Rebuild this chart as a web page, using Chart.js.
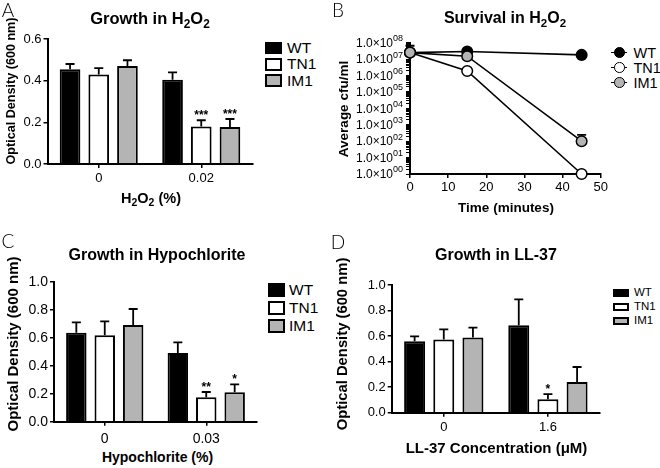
<!DOCTYPE html>
<html>
<head>
<meta charset="utf-8">
<script src="https://cdn.jsdelivr.net/npm/chart.js@4.4.1/dist/chart.umd.min.js"></script>
<style>
  body { margin: 0; background: #fff; }
  #fig { position: relative; width: 660px; height: 468px; overflow: hidden; color: #000;
         font-family: 'Liberation Sans', Arial, Helvetica, sans-serif; }
  #fig canvas { position: absolute; }
  .abs { position: absolute; white-space: nowrap; line-height: 1; }
  .abs sub { font-size: 72%; vertical-align: -0.32em; line-height: 0; }
  .sw { position: absolute; box-sizing: border-box; border: 2px solid #000; }
</style>
</head>
<body>
<div id="fig">
  <canvas id="chartA" width="260" height="190" style="left:0;top:0"></canvas>
  <canvas id="chartB" width="280" height="195" style="left:330px;top:0"></canvas>
  <canvas id="chartC" width="262" height="215" style="left:0;top:234px"></canvas>
  <canvas id="chartD" width="278" height="210" style="left:330px;top:234px"></canvas>
</div>
<script>
// --- data ---
const strains = ['WT', 'TN1', 'IM1'];

// A: growth in H2O2
const h2o2Doses = ['0', '0.02'];
const h2o2WT = [0.455, 0.405];
const h2o2WTErr = [0.025, 0.035];
const h2o2TN1 = [0.43, 0.18];
const h2o2TN1Err = [0.03, 0.03];
const h2o2IM1 = [0.47, 0.178];
const h2o2IM1Err = [0.028, 0.038];
const h2o2TN1Stars = ['', '***'];
const h2o2IM1Stars = ['', '***'];
const h2o2YTicks = [0, 0.2, 0.4, 0.6];

// B: survival in H2O2 (cfu/ml)
const survivalTimes = [0, 15, 45];
const survivalWT = [2.5e7, 2.9e7, 1.8e7];
const survivalTN1 = [2.5e7, 1.9e6, 1];
const survivalIM1 = [2.5e7, 1.5e7, 100];
const survivalWTTop = [6.5e7, null, null];
const survivalIM1Top = [null, null, 240];
const survivalXTicks = [0, 10, 20, 30, 40, 50];
const survivalDecades = [0, 1, 2, 3, 4, 5, 6, 7, 8];

// C: growth in hypochlorite
const hypoDoses = ['0', '0.03'];
const hypoWT = [0.635, 0.49];
const hypoWTErr = [0.075, 0.077];
const hypoTN1 = [0.617, 0.175];
const hypoTN1Err = [0.1, 0.037];
const hypoIM1 = [0.69, 0.21];
const hypoIM1Err = [0.115, 0.057];
const hypoTN1Stars = ['', '**'];
const hypoIM1Stars = ['', '*'];
const hypoYTicks = [0, 0.2, 0.4, 0.6, 0.8, 1.0];

// D: growth in LL-37
const ll37Doses = ['0', '1.6'];
const ll37WT = [0.56, 0.685];
const ll37WTErr = [0.038, 0.203];
const ll37TN1 = [0.573, 0.105];
const ll37TN1Err = [0.08, 0.04];
const ll37IM1 = [0.588, 0.24];
const ll37IM1Err = [0.078, 0.118];
const ll37TN1Stars = ['', '*'];
const ll37YTicks = [0, 0.2, 0.4, 0.6, 0.8, 1.0];

const FAM = "'Liberation Sans', Arial, Helvetica, sans-serif";
const GREY = '#b4b4b4';
const noStars = ['', ''];

// error bars (upward only, with cap) and significance stars
const errorBars = {
  id: 'errorBars',
  afterDatasetsDraw(chart) {
    const ctx = chart.ctx;
    const y = chart.scales.y;
    chart.data.datasets.forEach((ds, i) => {
      if (!ds.errTop) return;
      const meta = chart.getDatasetMeta(i);
      meta.data.forEach((el, j) => {
        const top = ds.errTop[j];
        if (top == null) return;
        const yTop = y.getPixelForValue(top);
        const yFrom = chart.config.type === 'line' ? el.y - 5 : el.y;
        ctx.save();
        ctx.strokeStyle = '#000';
        ctx.lineWidth = 1.8;
        ctx.beginPath();
        ctx.moveTo(el.x, yFrom);
        ctx.lineTo(el.x, yTop);
        ctx.moveTo(el.x - 4.5, yTop);
        ctx.lineTo(el.x + 4.5, yTop);
        ctx.stroke();
        const star = ds.stars ? ds.stars[j] : '';
        if (star) {
          ctx.fillStyle = '#000';
          ctx.font = 'bold 12px ' + FAM;
          ctx.textAlign = 'center';
          ctx.textBaseline = 'alphabetic';
          ctx.fillText(star, el.x, yTop - 1);
        }
        ctx.restore();
      });
    });
  }
};

function barChart(id, labels, series, yTicks, box) {
  new Chart(document.getElementById(id), {
    type: 'bar',
    data: {
      labels: labels,
      datasets: series.map(s => ({
        label: s.name,
        data: s.values,
        errTop: s.values.map((v, i) => v + s.errors[i]),
        stars: s.stars,
        backgroundColor: s.fill,
        borderColor: '#000',
        borderWidth: 2,
        inflateAmount: 0,
        categoryPercentage: 0.84,
        barPercentage: 0.72
      }))
    },
    options: {
      responsive: false,
      animation: false,
      layout: { padding: { top: box.top, right: box.right, left: 0, bottom: 0 } },
      plugins: { legend: { display: false }, tooltip: { enabled: false } },
      scales: {
        x: {
          ticks: { color: '#000', font: { family: FAM, size: box.font }, padding: box.xpad },
          grid: { offset: false, drawOnChartArea: false, tickLength: 4, color: '#000', lineWidth: 1.5 },
          border: { color: '#000', width: 2, z: 1 },
          afterFit: s => { s.height = box.xh; }
        },
        y: {
          min: yTicks[0],
          max: yTicks[yTicks.length - 1],
          afterBuildTicks: s => { s.ticks = yTicks.map(v => ({ value: v })); },
          ticks: { color: '#000', font: { family: FAM, size: box.font }, padding: 2,
                   callback: v => Number(v).toFixed(1) },
          grid: { drawOnChartArea: false, tickLength: 4, color: '#000', lineWidth: 1.5 },
          border: { color: '#000', width: 2 },
          afterFit: s => { s.width = box.yw; }
        }
      }
    },
    plugins: [errorBars]
  });
}

barChart('chartA', h2o2Doses, [
  { name: 'WT', values: h2o2WT, errors: h2o2WTErr, stars: noStars, fill: '#000' },
  { name: 'TN1', values: h2o2TN1, errors: h2o2TN1Err, stars: h2o2TN1Stars, fill: '#fff' },
  { name: 'IM1', values: h2o2IM1, errors: h2o2IM1Err, stars: h2o2IM1Stars, fill: GREY }
], h2o2YTicks, { top: 39, right: 7.5, yw: 47.5, xh: 26, font: 13, xpad: 3 });

barChart('chartC', hypoDoses, [
  { name: 'WT', values: hypoWT, errors: hypoWTErr, stars: noStars, fill: '#000' },
  { name: 'TN1', values: hypoTN1, errors: hypoTN1Err, stars: hypoTN1Stars, fill: '#fff' },
  { name: 'IM1', values: hypoIM1, errors: hypoIM1Err, stars: hypoIM1Stars, fill: GREY }
], hypoYTicks, { top: 47.7, right: 5, yw: 54, xh: 27.3, font: 14, xpad: 5 });

barChart('chartD', ll37Doses, [
  { name: 'WT', values: ll37WT, errors: ll37WTErr, stars: noStars, fill: '#000' },
  { name: 'TN1', values: ll37TN1, errors: ll37TN1Err, stars: ll37TN1Stars, fill: '#fff' },
  { name: 'IM1', values: ll37IM1, errors: ll37IM1Err, stars: noStars, fill: GREY }
], ll37YTicks, { top: 51, right: 8, yw: 61.7, xh: 31.3, font: 13, xpad: 3 });

// B: log-scale survival curve
const logTicks = [];
survivalDecades.forEach(n => {
  for (let k = 1; k <= 9; k++) {
    if (n === 8 && k > 1) break;
    logTicks.push(k * Math.pow(10, n));
  }
});
const pts = arr => survivalTimes.map((t, i) => ({ x: t, y: arr[i] }));

// decade labels "1.0×10^nn" with a raised exponent, placed from the log scale
const decadeLabels = {
  id: 'decadeLabels',
  afterDraw(chart) {
    const ctx = chart.ctx;
    const y = chart.scales.y;
    const right = chart.chartArea.left - 7;
    ctx.save();
    ctx.fillStyle = '#000';
    ctx.textAlign = 'right';
    ctx.textBaseline = 'middle';
    survivalDecades.forEach(n => {
      const py = y.getPixelForValue(Math.pow(10, n));
      const exp = String(n).padStart(2, '0');
      ctx.font = '9px ' + FAM;
      const w = ctx.measureText(exp).width;
      ctx.fillText(exp, right, py - 4);
      ctx.font = '12px ' + FAM;
      ctx.fillText('1.0×10', right - w, py + 1);
    });
    ctx.restore();
  }
};

new Chart(document.getElementById('chartB'), {
  type: 'line',
  data: {
    datasets: [
      { label: 'WT', data: pts(survivalWT), errTop: survivalWTTop, pointBackgroundColor: '#000', order: 3 },
      { label: 'TN1', data: pts(survivalTN1), pointBackgroundColor: '#fff', order: 2 },
      { label: 'IM1', data: pts(survivalIM1), errTop: survivalIM1Top, pointBackgroundColor: GREY, order: 1 }
    ].map(d => Object.assign({
      borderColor: '#000', borderWidth: 1.6, pointBorderColor: '#000', pointBorderWidth: 1.5,
      pointRadius: 5.3, tension: 0, clip: false, fill: false
    }, d))
  },
  options: {
    responsive: false,
    animation: false,
    layout: { padding: { top: 42.7, right: 9.3, left: 0, bottom: 0 } },
    plugins: { legend: { display: false }, tooltip: { enabled: false } },
    scales: {
      x: {
        type: 'linear', min: 0, max: 50,
        afterBuildTicks: s => { s.ticks = survivalXTicks.map(v => ({ value: v })); },
        ticks: { color: '#000', font: { family: FAM, size: 13 }, padding: 2 },
        grid: { drawOnChartArea: false, tickLength: 4, color: '#000', lineWidth: 1.5 },
        border: { color: '#000', width: 2 },
        afterFit: s => { s.height = 21; }
      },
      y: {
        type: 'logarithmic', min: 1, max: 1e8,
        afterBuildTicks: s => { s.ticks = logTicks.map(v => ({ value: v })); },
        ticks: { autoSkip: false, callback: () => '' },
        grid: { drawOnChartArea: false, tickLength: 4, color: '#000', lineWidth: 1 },
        border: { color: '#000', width: 2 },
        afterFit: s => { s.width = 80; }
      }
    }
  },
  plugins: [{
    id: 'errorBarsBehind',
    beforeDatasetsDraw: chart => errorBars.afterDatasetsDraw(chart)
  }, decadeLabels]
});

// --- text and legends ---
const fig = document.getElementById('fig');
function text(html, cx, cy, size, opts = {}) {
  const d = document.createElement('div');
  d.className = 'abs';
  d.innerHTML = html;
  d.style.left = cx + 'px';
  d.style.top = cy + 'px';
  d.style.fontSize = size + 'px';
  if (opts.bold) d.style.fontWeight = 'bold';
  if (opts.family) d.style.fontFamily = opts.family;
  if (opts.weight) d.style.fontWeight = opts.weight;
  let t = opts.left ? 'translate(0,-50%)' : 'translate(-50%,-50%)';
  if (opts.rotate) t += ' rotate(-90deg)';
  d.style.transform = t;
  fig.appendChild(d);
}
function swatch(x, y, w, h, fill) {
  const d = document.createElement('div');
  d.className = 'sw';
  Object.assign(d.style, { left: x + 'px', top: y + 'px', width: w + 'px', height: h + 'px', background: fill });
  fig.appendChild(d);
}
function marker(cx, cy, fill) {
  const line = document.createElement('div');
  Object.assign(line.style, { position: 'absolute', left: (cx - 8) + 'px', top: (cy - 0.8) + 'px',
    width: '16px', height: '1.6px', background: '#000' });
  fig.appendChild(line);
  const dot = document.createElement('div');
  Object.assign(dot.style, { position: 'absolute', left: (cx - 5.3) + 'px', top: (cy - 5.3) + 'px',
    width: '10.6px', height: '10.6px', boxSizing: 'border-box', border: '1.5px solid #000',
    borderRadius: '50%', background: fill });
  fig.appendChild(dot);
}

const LIGHT = "Lato, 'Open Sans', 'Liberation Sans', sans-serif";
text('A', 8, 9, 19, { family: LIGHT, weight: 300 });
text('B', 338, 9, 19, { family: LIGHT, weight: 300 });
text('C', 8, 240, 19, { family: LIGHT, weight: 300 });
text('D', 338, 241, 19, { family: LIGHT, weight: 300 });

text('Growth in H<sub>2</sub>O<sub>2</sub>', 150, 18, 16.5, { bold: true });
text('Survival in H<sub>2</sub>O<sub>2</sub>', 505, 18, 16, { bold: true });
text('Growth in Hypochlorite', 157, 255, 16, { bold: true });
text('Growth in LL-37', 496, 254.5, 16, { bold: true });

text('H<sub>2</sub>O<sub>2</sub> (%)', 151, 198, 14.5, { bold: true });
text('Time (minutes)', 506, 207.5, 13.5, { bold: true });
text('Hypochlorite (%)', 157.5, 457, 14, { bold: true });
text('LL-37 Concentration (μM)', 496.5, 446.5, 15, { bold: true });

text('Optical Density (600 nm)', 10.5, 91, 12.6, { bold: true, rotate: true });
text('Average cfu/ml', 343.5, 108.5, 13.5, { bold: true, rotate: true });
text('Optical Density (600 nm)', 11.7, 344, 15, { bold: true, rotate: true });
text('Optical Density (600 nm)', 341.5, 344, 14.8, { bold: true, rotate: true });

const fills = ['#000', '#fff', GREY];
strains.forEach((s, i) => {
  swatch(265, 41.7 + i * 16.3, 17, 12.6, fills[i]);
  text(s, 287, 48 + i * 16.3, 15.5, { left: true });
  swatch(268, 283 + i * 18, 16.5, 14, fills[i]);
  text(s, 289, 290 + i * 18, 15.5, { left: true });
  swatch(612.7, 288.5 + i * 14, 16.5, 8.5, fills[i]);
  text(s, 634, 293 + i * 14, 11.5, { left: true });
  marker(619.3, 52.5 + i * 15, fills[i]);
  text(s, 633.5, 52.5 + i * 15, 14.5, { left: true });
});
</script>
</body>
</html>
